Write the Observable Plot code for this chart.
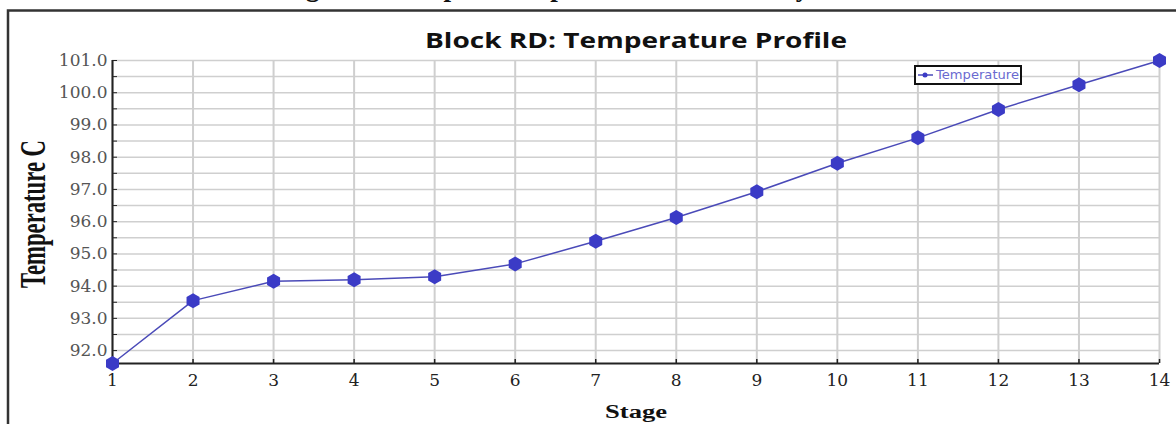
<!DOCTYPE html>
<html><head><meta charset="utf-8">
<script src="https://cdn.jsdelivr.net/npm/d3@7"></script>
<script src="https://cdn.jsdelivr.net/npm/@observablehq/plot@0.6"></script>
<style>
html,body{margin:0;padding:0;background:#fff;}
#wrap{position:relative;width:1176px;height:424px;overflow:hidden;}
</style></head><body><div id="wrap"></div>
<script>
const stages = [1, 2, 3, 4, 5, 6, 7, 8, 9, 10, 11, 12, 13, 14];
const temperatures = [91.6, 93.55, 94.15, 94.2, 94.29, 94.69, 95.39, 96.13, 96.93, 97.81, 98.6, 99.48, 100.25, 101.0];
const yTickValues = [92, 93, 94, 95, 96, 97, 98, 99, 100, 101];
const yGridValues = [92, 92.5, 93, 93.5, 94, 94.5, 95, 95.5, 96, 96.5, 97, 97.5, 98, 98.5, 99, 99.5, 100, 100.5, 101];
const yDomain = [91.6, 101.0];
const title = "Block RD: Temperature Profile";
const xLabel = "Stage";
const yLabel = "Temperature C";
const seriesName = "Temperature";
const caption = "Figure 4: Temperature profile of Block RD by simulation";

const data = stages.map((s, i) => ({stage: s, temp: temperatures[i]}));
const W = 1176, H = 424, ML = 112, MR = 17, MT = 60, MB = 61;
const lineColor = "#4a4ab8", dotColor = "#3b3bc6";

const plot = Plot.plot({
  width: W, height: H, marginLeft: ML, marginRight: MR, marginTop: MT, marginBottom: MB,
  x: {domain: [1, 14]},
  y: {domain: yDomain},
  style: {background: "transparent", overflow: "hidden"},
  marks: [
    Plot.gridY(yGridValues, {stroke: "#cfcfcf", strokeOpacity: 1, strokeWidth: 1.5}),
    Plot.gridX(stages, {stroke: "#cfcfcf", strokeOpacity: 1, strokeWidth: 2}),
    Plot.ruleY(yGridValues, {stroke: "#222", strokeWidth: 1, insetRight: (W - ML - MR) - 5}),
    Plot.ruleX(stages, {stroke: "#222", strokeWidth: 1.5, insetTop: (H - MT - MB) - 4}),
    Plot.ruleX([1], {stroke: "#222", strokeWidth: 2}),
    Plot.ruleY([yDomain[0]], {stroke: "#222", strokeWidth: 2}),
    Plot.axisY(yTickValues, {tickSize: 0, tickPadding: 5, tickFormat: d => d.toFixed(1), fontSize: 17, fontFamily: "DejaVu Serif", fill: "#555", label: null}),
    Plot.axisX(stages, {tickSize: 0, tickPadding: 10, tickFormat: d => String(d), fontSize: 17, fontFamily: "DejaVu Serif", fill: "#222", label: null}),
    Plot.line(data, {x: "stage", y: "temp", stroke: lineColor, strokeWidth: 1.5}),
    Plot.dot(data, {x: "stage", y: "temp", r: 6.5, fill: dotColor, stroke: "none", symbol: "hexagon"}),
    Plot.text([title], {frameAnchor: "top", dy: -20, lineAnchor: "middle", fontSize: 22, fontFamily: "Open Sans", fontWeight: 700, fill: "#111", className: "ttl"}),
    Plot.text([xLabel], {frameAnchor: "bottom", dy: 49, lineAnchor: "middle", fontSize: 18, fontFamily: "Liberation Serif", fontWeight: "bold", fill: "#111", className: "xlab"})
  ]
});
document.getElementById("wrap").appendChild(plot);

const svg = d3.select(plot);
svg.selectAll(".ttl text").attr("textLength", 422).attr("lengthAdjust", "spacingAndGlyphs");
svg.selectAll(".xlab text").attr("textLength", 62).attr("lengthAdjust", "spacingAndGlyphs");

// outer frame
svg.append("path").attr("d", "M8,424 V10.5 H1176").attr("fill", "none").attr("stroke", "#333").attr("stroke-width", 2.5);
// cut-off caption above the frame (only descenders show)
svg.append("text").attr("x", 282).attr("y", -4).attr("text-anchor", "start").attr("font-family", "Liberation Serif").attr("font-weight", "bold")
  .attr("font-size", 27).attr("fill", "#111").text(caption);
// rotated y label
svg.append("text").attr("transform", "translate(45,214) rotate(-90)").attr("text-anchor", "middle")
  .attr("font-family", "Liberation Serif").attr("font-weight", "bold").attr("font-size", 36)
  .attr("textLength", 148).attr("lengthAdjust", "spacingAndGlyphs").attr("fill", "#111").text(yLabel);
// legend
const lg = svg.append("g");
lg.append("rect").attr("x", 915).attr("y", 66).attr("width", 106).attr("height", 18).attr("fill", "#fff").attr("stroke", "#111").attr("stroke-width", 2);
lg.append("line").attr("x1", 918).attr("x2", 933).attr("y1", 75).attr("y2", 75).attr("stroke", lineColor).attr("stroke-width", 1.5);
lg.append("circle").attr("cx", 925).attr("cy", 75).attr("r", 2.5).attr("fill", dotColor);
lg.append("text").attr("x", 936).attr("y", 75).attr("dy", "0.35em").attr("text-anchor", "start").attr("font-family", "DejaVu Sans").attr("font-size", 12)
  .attr("textLength", 83).attr("lengthAdjust", "spacingAndGlyphs").attr("fill", "#6a6ad0").text(seriesName);
</script></body></html>
